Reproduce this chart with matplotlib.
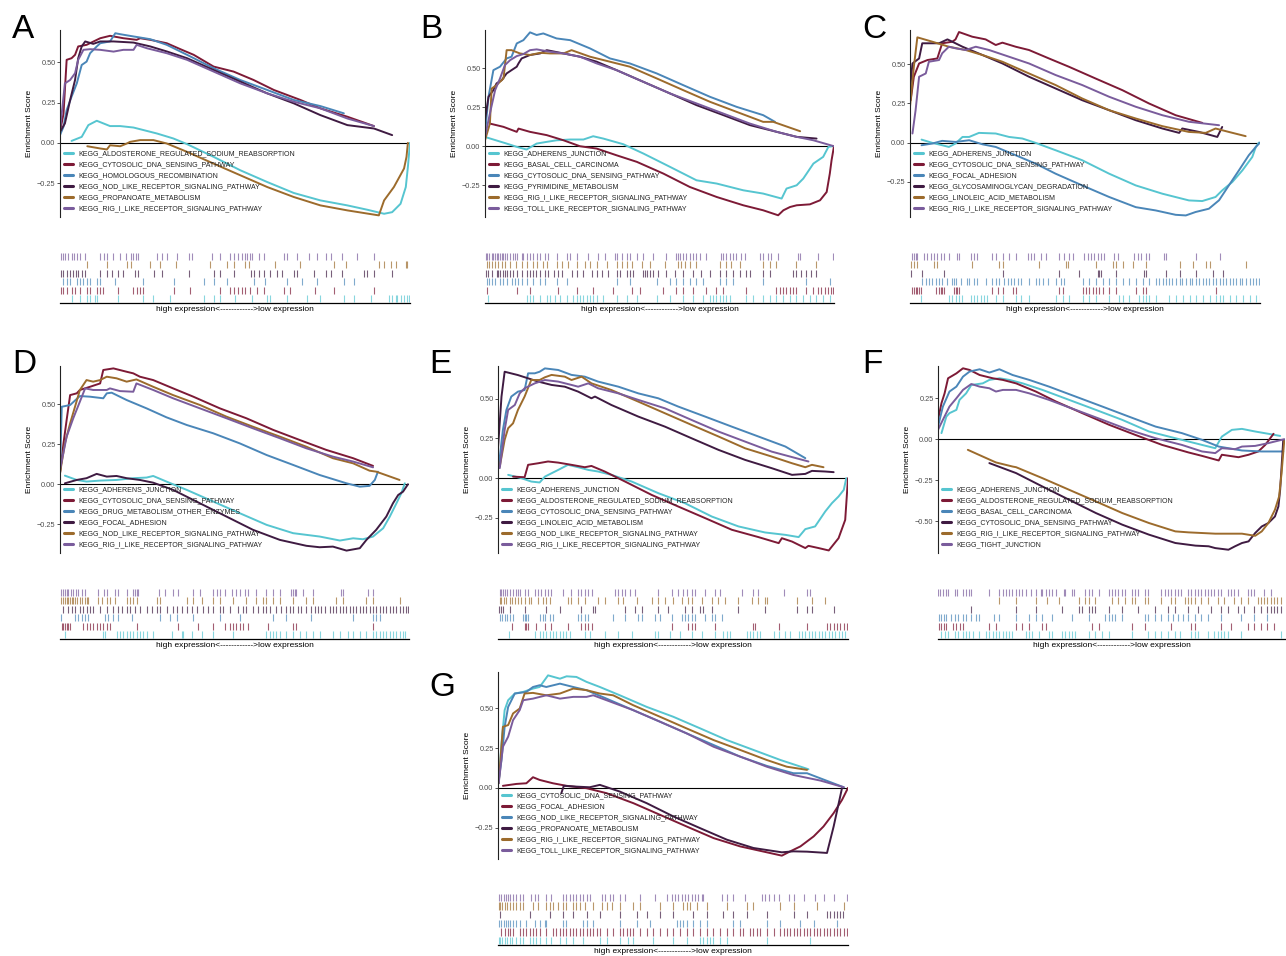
import matplotlib
matplotlib.use('Agg')
import matplotlib.pyplot as plt
from matplotlib.ticker import FuncFormatter

plt.rcParams['font.family'] = ['Liberation Sans', 'DejaVu Sans']

# colours of the six gene sets in every panel (legend order)
COLORS = ['#56C5D0', '#7D1A36', '#4A86B8', '#3F1B42', '#9C6B2C', '#7A5C9C']
N_RANK = 1048  # length of the ranked gene list (hit positions below are ranks)
XLABEL = 'high expression<------------>low expression'

# ---------------------------------------------------------------- panel A
A_names = ['KEGG_ALDOSTERONE_REGULATED_SODIUM_REABSORPTION', 'KEGG_CYTOSOLIC_DNA_SENSING_PATHWAY',
           'KEGG_HOMOLOGOUS_RECOMBINATION', 'KEGG_NOD_LIKE_RECEPTOR_SIGNALING_PATHWAY',
           'KEGG_PROPANOATE_METABOLISM', 'KEGG_RIG_I_LIKE_RECEPTOR_SIGNALING_PATHWAY']
A_x = [
    [0.033, 0.062, 0.081, 0.105, 0.143, 0.172, 0.210, 0.277, 0.324, 0.363, 0.439, 0.515, 0.592, 0.668, 0.744, 0.821, 0.878, 0.926, 0.949, 0.973, 0.988, 0.994, 1.0],
    [0, 0.01, 0.019, 0.033, 0.043, 0.052, 0.076, 0.115, 0.143, 0.181, 0.219, 0.229, 0.258, 0.305, 0.344, 0.382, 0.439, 0.496, 0.553, 0.611, 0.687, 0.744, 0.821, 0.897],
    [0, 0.01, 0.019, 0.033, 0.048, 0.062, 0.076, 0.086, 0.105, 0.115, 0.143, 0.158, 0.172, 0.21, 0.258, 0.305, 0.363, 0.439, 0.515, 0.592, 0.668, 0.744, 0.811],
    [0, 0.014, 0.029, 0.043, 0.052, 0.062, 0.072, 0.095, 0.115, 0.153, 0.21, 0.258, 0.305, 0.363, 0.439, 0.515, 0.592, 0.668, 0.744, 0.821, 0.897, 0.949],
    [0.078, 0.115, 0.134, 0.143, 0.172, 0.191, 0.2, 0.229, 0.267, 0.305, 0.363, 0.439, 0.515, 0.592, 0.668, 0.744, 0.821, 0.911, 0.926, 0.954, 0.983, 0.99, 0.994],
    [0, 0.014, 0.029, 0.043, 0.052, 0.067, 0.086, 0.115, 0.153, 0.181, 0.21, 0.219, 0.248, 0.305, 0.363, 0.439, 0.515, 0.592, 0.668, 0.744, 0.821, 0.897],
]
A_y = [
    [0.012, 0.037, 0.11, 0.137, 0.104, 0.104, 0.095, 0.058, 0.027, -0.008, -0.087, -0.17, -0.243, -0.311, -0.357, -0.388, -0.415, -0.44, -0.43, -0.378, -0.274, -0.149, 0],
    [0.068, 0.18, 0.515, 0.525, 0.546, 0.598, 0.608, 0.649, 0.664, 0.649, 0.639, 0.649, 0.639, 0.618, 0.581, 0.546, 0.473, 0.442, 0.39, 0.328, 0.266, 0.214, 0.162, 0.104],
    [0.048, 0.1, 0.203, 0.286, 0.369, 0.483, 0.504, 0.556, 0.598, 0.618, 0.629, 0.68, 0.674, 0.66, 0.643, 0.608, 0.546, 0.463, 0.39, 0.328, 0.266, 0.228, 0.183],
    [0.068, 0.12, 0.266, 0.39, 0.525, 0.598, 0.629, 0.614, 0.629, 0.629, 0.622, 0.598, 0.567, 0.525, 0.452, 0.38, 0.307, 0.245, 0.172, 0.11, 0.089, 0.048],
    [-0.021, -0.035, -0.041, -0.015, -0.021, -0.004, 0.006, 0.017, 0.017, -0.004, -0.056, -0.129, -0.201, -0.274, -0.336, -0.388, -0.419, -0.45, -0.357, -0.274, -0.159, -0.087, 0],
    [0.079, 0.369, 0.39, 0.432, 0.515, 0.577, 0.581, 0.577, 0.566, 0.577, 0.577, 0.608, 0.587, 0.556, 0.515, 0.442, 0.369, 0.307, 0.255, 0.214, 0.151, 0.104],
]
A_hits = [
    [35, 60, 82, 90, 105, 110, 175, 250, 278, 330, 430, 460, 480, 525, 575, 620, 630, 680, 740, 780, 850, 880, 930, 985, 995, 1005, 1010, 1020, 1030, 1040, 1045],
    [3, 10, 20, 35, 45, 60, 82, 90, 110, 120, 130, 175, 220, 230, 240, 248, 340, 390, 480, 510, 520, 532, 545, 555, 570, 590, 610, 670, 690, 765, 820, 940],
    [10, 20, 30, 50, 60, 70, 82, 90, 110, 120, 165, 250, 340, 430, 460, 500, 580, 615, 680, 725, 770, 850, 880],
    [3, 10, 20, 30, 40, 48, 55, 65, 75, 120, 140, 155, 175, 188, 225, 235, 280, 305, 385, 460, 480, 520, 572, 580, 595, 610, 630, 650, 665, 700, 710, 760, 795, 810, 845, 910, 920, 940, 995],
    [82, 142, 202, 212, 268, 298, 348, 448, 500, 520, 555, 565, 643, 720, 820, 855, 955, 970, 990, 1005, 1035, 1040],
    [3, 8, 15, 25, 35, 42, 50, 60, 75, 120, 132, 142, 160, 180, 198, 212, 220, 228, 235, 290, 305, 320, 350, 385, 395, 455, 480, 510, 520, 532, 545, 555, 560, 570, 575, 595, 610, 670, 680, 710, 745, 770, 795, 810, 845, 890, 940],
]

# ---------------------------------------------------------------- panel B
B_names = ['KEGG_ADHERENS_JUNCTION', 'KEGG_BASAL_CELL_CARCINOMA', 'KEGG_CYTOSOLIC_DNA_SENSING_PATHWAY',
           'KEGG_PYRIMIDINE_METABOLISM', 'KEGG_RIG_I_LIKE_RECEPTOR_SIGNALING_PATHWAY',
           'KEGG_TOLL_LIKE_RECEPTOR_SIGNALING_PATHWAY']
B_x = [
    [0.005, 0.062, 0.091, 0.119, 0.148, 0.177, 0.205, 0.244, 0.282, 0.31, 0.339, 0.396, 0.454, 0.53, 0.606, 0.664, 0.74, 0.797, 0.85, 0.864, 0.893, 0.912, 0.941, 0.969, 0.984, 0.993],
    [0.014, 0.053, 0.091, 0.096, 0.129, 0.177, 0.225, 0.272, 0.32, 0.377, 0.435, 0.511, 0.587, 0.664, 0.74, 0.797, 0.84, 0.855, 0.874, 0.893, 0.931, 0.96, 0.979, 0.988, 0.993, 1.0],
    [0, 0.01, 0.024, 0.043, 0.062, 0.076, 0.091, 0.11, 0.129, 0.148, 0.167, 0.205, 0.244, 0.301, 0.358, 0.415, 0.492, 0.568, 0.645, 0.721, 0.797, 0.831],
    [0, 0.01, 0.024, 0.033, 0.048, 0.062, 0.076, 0.091, 0.096, 0.105, 0.129, 0.158, 0.177, 0.225, 0.272, 0.32, 0.377, 0.454, 0.53, 0.606, 0.683, 0.759, 0.836, 0.893, 0.95],
    [0, 0.014, 0.019, 0.033, 0.053, 0.062, 0.076, 0.1, 0.129, 0.158, 0.186, 0.225, 0.248, 0.301, 0.358, 0.415, 0.492, 0.568, 0.645, 0.721, 0.797, 0.826, 0.903],
    [0, 0.014, 0.029, 0.043, 0.057, 0.072, 0.091, 0.11, 0.129, 0.148, 0.186, 0.225, 0.272, 0.32, 0.377, 0.454, 0.53, 0.606, 0.683, 0.759, 0.836, 0.893, 0.941, 1.0],
]
B_y = [
    [0.056, 0.017, -0.004, -0.021, 0.017, 0.028, 0.038, 0.043, 0.043, 0.064, 0.049, 0.013, -0.047, -0.132, -0.218, -0.239, -0.282, -0.303, -0.335, -0.271, -0.25, -0.207, -0.111, -0.068, -0.004, 0],
    [0.145, 0.124, 0.092, 0.113, 0.092, 0.071, 0.038, 0, -0.015, -0.058, -0.1, -0.175, -0.261, -0.325, -0.378, -0.41, -0.442, -0.41, -0.389, -0.378, -0.372, -0.346, -0.293, -0.175, -0.09, 0],
    [0.081, 0.316, 0.487, 0.509, 0.562, 0.573, 0.658, 0.679, 0.729, 0.712, 0.722, 0.69, 0.679, 0.626, 0.562, 0.53, 0.466, 0.391, 0.316, 0.252, 0.199, 0.156],
    [0.167, 0.316, 0.359, 0.402, 0.423, 0.466, 0.487, 0.509, 0.53, 0.562, 0.584, 0.594, 0.615, 0.594, 0.573, 0.541, 0.487, 0.412, 0.338, 0.263, 0.199, 0.135, 0.092, 0.06, 0.049],
    [0.038, 0.145, 0.369, 0.391, 0.434, 0.615, 0.615, 0.594, 0.584, 0.598, 0.594, 0.594, 0.615, 0.573, 0.541, 0.509, 0.434, 0.359, 0.284, 0.22, 0.156, 0.156, 0.096],
    [0.06, 0.209, 0.359, 0.434, 0.519, 0.551, 0.577, 0.59, 0.615, 0.62, 0.605, 0.594, 0.573, 0.53, 0.487, 0.412, 0.338, 0.274, 0.209, 0.145, 0.092, 0.06, 0.038, 0],
]
B_hits = [
    [10, 125, 135, 145, 165, 185, 195, 210, 225, 245, 265, 275, 285, 295, 305, 315, 325, 335, 355, 395, 425, 455, 515, 555, 595, 625, 655, 675, 685, 695, 705, 715, 725, 735, 785, 805, 835, 855, 875, 895, 915, 935, 955, 975, 995, 1015, 1035],
    [7, 97, 135, 220, 275, 325, 385, 440, 465, 535, 575, 595, 625, 665, 695, 715, 785, 875, 885, 895, 905, 915, 925, 935, 965, 985, 1000, 1010, 1020, 1030, 1040, 1045],
    [5, 13, 20, 30, 45, 55, 65, 80, 90, 100, 110, 125, 145, 165, 180, 215, 245, 395, 435, 515, 555, 575, 595, 615, 635, 655, 705, 725, 745, 835, 965, 1035],
    [3, 10, 20, 35, 40, 45, 53, 60, 67, 75, 83, 97, 110, 127, 135, 143, 153, 165, 180, 190, 207, 220, 230, 260, 275, 295, 320, 335, 350, 370, 395, 405, 425, 435, 445, 475, 480, 485, 495, 505, 520, 545, 570, 595, 625, 650, 675, 705, 725, 745, 765, 785, 795, 835, 855, 925, 935, 950, 965, 980, 995],
    [5, 13, 20, 30, 40, 50, 60, 75, 93, 110, 125, 145, 155, 175, 185, 215, 230, 250, 275, 300, 315, 335, 365, 395, 410, 425, 440, 470, 495, 540, 580, 590, 600, 615, 635, 705, 725, 740, 765, 835, 855, 875, 935, 995],
    [3, 7, 13, 20, 25, 30, 35, 40, 45, 50, 55, 60, 67, 75, 83, 90, 97, 110, 115, 125, 135, 145, 155, 165, 180, 190, 215, 245, 255, 275, 310, 340, 360, 390, 395, 410, 425, 435, 455, 475, 505, 545, 575, 580, 585, 595, 605, 615, 625, 635, 645, 665, 710, 715, 725, 735, 745, 755, 770, 780, 825, 835, 850, 860, 880, 940, 945, 1000, 1045],
]

# ---------------------------------------------------------------- panel C
C_names = ['KEGG_ADHERENS_JUNCTION', 'KEGG_CYTOSOLIC_DNA_SENSING_PATHWAY', 'KEGG_FOCAL_ADHESION',
           'KEGG_GLYCOSAMINOGLYCAN_DEGRADATION', 'KEGG_LINOLEIC_ACID_METABOLISM',
           'KEGG_RIG_I_LIKE_RECEPTOR_SIGNALING_PATHWAY']
C_x = [
    [0.033, 0.064, 0.092, 0.111, 0.13, 0.15, 0.169, 0.197, 0.245, 0.283, 0.321, 0.359, 0.416, 0.492, 0.569, 0.645, 0.721, 0.797, 0.835, 0.873, 0.892, 0.921, 0.95, 0.978, 0.988, 0.997],
    [0.002, 0.011, 0.026, 0.05, 0.078, 0.092, 0.121, 0.13, 0.14, 0.178, 0.216, 0.245, 0.264, 0.302, 0.34, 0.397, 0.454, 0.53, 0.607, 0.683, 0.759, 0.835],
    [0.033, 0.064, 0.092, 0.13, 0.169, 0.207, 0.245, 0.302, 0.359, 0.416, 0.492, 0.569, 0.645, 0.702, 0.759, 0.788, 0.816, 0.854, 0.883, 0.911, 0.94, 0.968, 0.988, 1.0],
    [0, 0.007, 0.026, 0.035, 0.083, 0.107, 0.121, 0.15, 0.207, 0.264, 0.34, 0.416, 0.492, 0.569, 0.645, 0.721, 0.769, 0.778, 0.826, 0.878, 0.892],
    [0, 0.011, 0.021, 0.064, 0.111, 0.159, 0.207, 0.264, 0.34, 0.416, 0.492, 0.569, 0.645, 0.721, 0.797, 0.845, 0.873, 0.911, 0.959],
    [0.007, 0.016, 0.026, 0.045, 0.054, 0.083, 0.092, 0.111, 0.13, 0.159, 0.188, 0.226, 0.283, 0.34, 0.416, 0.492, 0.569, 0.645, 0.721, 0.797, 0.883],
]
C_y = [
    [0.019, -0.002, -0.017, -0.028, -0.006, 0.036, 0.036, 0.062, 0.058, 0.036, 0.026, -0.002, -0.049, -0.113, -0.199, -0.274, -0.327, -0.37, -0.374, -0.348, -0.306, -0.252, -0.177, -0.092, -0.028, 0],
    [0.271, 0.421, 0.506, 0.528, 0.538, 0.635, 0.645, 0.66, 0.707, 0.677, 0.66, 0.624, 0.639, 0.613, 0.592, 0.538, 0.485, 0.41, 0.335, 0.25, 0.175, 0.126],
    [-0.017, -0.006, 0.011, 0.004, 0.015, -0.011, -0.028, -0.081, -0.135, -0.199, -0.274, -0.348, -0.413, -0.434, -0.462, -0.466, -0.444, -0.423, -0.369, -0.274, -0.177, -0.081, -0.028, 0],
    [0.335, 0.506, 0.538, 0.635, 0.635, 0.66, 0.645, 0.613, 0.56, 0.506, 0.421, 0.346, 0.271, 0.207, 0.143, 0.09, 0.062, 0.09, 0.068, 0.036, 0.1],
    [0.229, 0.485, 0.673, 0.645, 0.613, 0.592, 0.56, 0.517, 0.442, 0.368, 0.282, 0.207, 0.154, 0.105, 0.068, 0.062, 0.09, 0.068, 0.041],
    [0.058, 0.207, 0.421, 0.442, 0.517, 0.528, 0.571, 0.613, 0.603, 0.592, 0.613, 0.592, 0.549, 0.506, 0.432, 0.368, 0.293, 0.229, 0.175, 0.133, 0.111],
]
C_hits = [
    [32, 117, 127, 137, 147, 157, 182, 192, 202, 212, 222, 232, 257, 277, 317, 332, 357, 437, 457, 477, 517, 537, 557, 597, 627, 637, 657, 687, 697, 707, 717, 737, 777, 797, 817, 837, 857, 877, 897, 917, 927, 937, 957, 977, 997, 1017, 1037, 1047],
    [7, 12, 17, 22, 27, 32, 77, 87, 92, 97, 102, 132, 137, 142, 147, 247, 262, 277, 307, 317, 447, 457, 517, 527, 537, 547, 557, 567, 577, 597, 617, 677, 697, 707, 917],
    [37, 47, 57, 67, 77, 87, 97, 112, 127, 132, 137, 152, 172, 177, 192, 202, 227, 247, 257, 267, 282, 292, 302, 312, 322, 332, 357, 377, 387, 397, 412, 437, 452, 462, 517, 537, 557, 577, 597, 617, 637, 657, 677, 697, 717, 737, 745, 757, 767, 777, 785, 797, 807, 815, 827, 837, 845, 857, 865, 877, 887, 895, 907, 915, 927, 937, 945, 957, 967, 977, 987, 995, 1007, 1017, 1027, 1037, 1045],
    [2, 37, 102, 277, 447, 507, 562, 567, 572, 617, 702, 707, 767, 807, 857, 907, 937],
    [2, 12, 22, 72, 82, 187, 267, 277, 387, 467, 472, 557, 607, 617, 637, 667, 707, 807, 847, 887, 897, 1007],
    [7, 12, 17, 22, 42, 52, 62, 72, 82, 92, 102, 117, 142, 147, 182, 192, 202, 247, 257, 277, 297, 317, 352, 362, 372, 392, 407, 447, 462, 477, 487, 522, 532, 542, 552, 562, 572, 582, 612, 622, 672, 682, 692, 707, 717, 762, 767, 857, 927],
]

# ---------------------------------------------------------------- panel D
D_names = ['KEGG_ADHERENS_JUNCTION', 'KEGG_CYTOSOLIC_DNA_SENSING_PATHWAY', 'KEGG_DRUG_METABOLISM_OTHER_ENZYMES',
           'KEGG_FOCAL_ADHESION', 'KEGG_NOD_LIKE_RECEPTOR_SIGNALING_PATHWAY',
           'KEGG_RIG_I_LIKE_RECEPTOR_SIGNALING_PATHWAY']
D_x = [
    [0.014, 0.048, 0.076, 0.115, 0.162, 0.21, 0.248, 0.267, 0.305, 0.363, 0.439, 0.515, 0.592, 0.668, 0.744, 0.802, 0.84, 0.868, 0.897, 0.926, 0.945, 0.964, 0.978, 0.988],
    [0, 0.01, 0.019, 0.029, 0.048, 0.057, 0.086, 0.115, 0.124, 0.153, 0.191, 0.21, 0.229, 0.267, 0.324, 0.382, 0.458, 0.534, 0.611, 0.687, 0.763, 0.84, 0.897],
    [0, 0.005, 0.029, 0.057, 0.086, 0.124, 0.134, 0.148, 0.191, 0.248, 0.305, 0.363, 0.439, 0.515, 0.592, 0.668, 0.744, 0.821, 0.859, 0.887, 0.902, 0.911],
    [0.014, 0.048, 0.076, 0.105, 0.134, 0.162, 0.191, 0.229, 0.267, 0.324, 0.401, 0.477, 0.553, 0.63, 0.706, 0.744, 0.782, 0.821, 0.859, 0.878, 0.906, 0.935, 0.954, 0.969, 0.983, 0.997],
    [0, 0.014, 0.029, 0.043, 0.057, 0.076, 0.095, 0.115, 0.134, 0.162, 0.191, 0.219, 0.267, 0.324, 0.401, 0.477, 0.553, 0.63, 0.706, 0.782, 0.84, 0.887, 0.906, 0.973],
    [0, 0.019, 0.038, 0.057, 0.072, 0.095, 0.134, 0.143, 0.172, 0.21, 0.219, 0.267, 0.324, 0.401, 0.477, 0.553, 0.63, 0.706, 0.782, 0.84, 0.897],
]
D_y = [
    [0.054, 0.027, 0.017, 0.023, 0.027, 0.038, 0.042, 0.052, 0.017, -0.035, -0.108, -0.181, -0.254, -0.306, -0.327, -0.352, -0.338, -0.344, -0.327, -0.275, -0.202, -0.119, -0.056, 0.006],
    [0.069, 0.256, 0.402, 0.558, 0.569, 0.59, 0.61, 0.631, 0.715, 0.725, 0.704, 0.694, 0.673, 0.652, 0.6, 0.548, 0.475, 0.413, 0.34, 0.277, 0.215, 0.163, 0.115],
    [0.069, 0.485, 0.496, 0.552, 0.548, 0.538, 0.569, 0.573, 0.527, 0.475, 0.419, 0.371, 0.319, 0.256, 0.183, 0.121, 0.058, 0.006, -0.015, -0.01, 0.027, 0.079],
    [0.006, 0.027, 0.038, 0.065, 0.048, 0.052, 0.038, 0.027, 0.01, -0.035, -0.119, -0.202, -0.285, -0.348, -0.385, -0.394, -0.39, -0.415, -0.4, -0.348, -0.285, -0.202, -0.119, -0.067, -0.046, 0],
    [0.069, 0.256, 0.381, 0.485, 0.59, 0.652, 0.642, 0.652, 0.673, 0.663, 0.642, 0.656, 0.61, 0.558, 0.496, 0.423, 0.36, 0.298, 0.235, 0.163, 0.131, 0.085, 0.079, 0.027],
    [0.09, 0.298, 0.413, 0.517, 0.6, 0.59, 0.59, 0.6, 0.583, 0.579, 0.631, 0.59, 0.538, 0.475, 0.413, 0.35, 0.288, 0.225, 0.173, 0.142, 0.106],
]
D_hits = [
    [15, 130, 135, 170, 180, 190, 200, 210, 220, 230, 240, 250, 260, 280, 335, 365, 370, 395, 425, 460, 520, 620, 630, 640, 650, 660, 680, 700, 720, 740, 760, 780, 820, 840, 865, 880, 900, 920, 940, 950, 960, 970, 980, 990, 1000, 1010, 1020, 1030, 1035],
    [5, 10, 15, 20, 25, 30, 70, 80, 90, 100, 110, 120, 130, 140, 150, 230, 355, 415, 460, 495, 510, 520, 530, 540, 550, 565, 625, 700, 710, 940],
    [3, 45, 55, 65, 75, 85, 135, 145, 160, 175, 215, 300, 330, 350, 400, 480, 540, 640, 680, 755, 880, 940, 950, 960],
    [10, 25, 35, 45, 60, 70, 80, 90, 100, 120, 140, 160, 175, 185, 200, 210, 225, 240, 260, 275, 290, 300, 320, 340, 350, 365, 380, 395, 410, 430, 445, 460, 480, 490, 510, 535, 550, 560, 580, 595, 610, 620, 630, 650, 665, 680, 690, 700, 715, 725, 740, 755, 765, 775, 785, 795, 810, 820, 830, 840, 850, 860, 870, 880, 890, 900, 910, 920, 930, 940, 950, 960, 970, 980, 990, 1000, 1010, 1020, 1030, 1040, 1045],
    [3, 10, 15, 20, 25, 30, 35, 40, 45, 50, 60, 65, 75, 80, 85, 115, 125, 140, 150, 165, 200, 210, 220, 230, 290, 300, 380, 400, 425, 460, 480, 520, 560, 590, 610, 620, 640, 660, 700, 740, 760, 830, 850, 920, 940, 1020],
    [3, 8, 15, 20, 25, 32, 40, 48, 55, 65, 75, 115, 132, 140, 165, 175, 200, 220, 225, 230, 235, 298, 315, 340, 355, 400, 420, 460, 470, 480, 495, 515, 530, 540, 555, 565, 590, 620, 640, 660, 695, 700, 705, 710, 730, 760, 845, 850, 925, 940],
]

# ---------------------------------------------------------------- panel E
E_names = ['KEGG_ADHERENS_JUNCTION', 'KEGG_ALDOSTERONE_REGULATED_SODIUM_REABSORPTION',
           'KEGG_CYTOSOLIC_DNA_SENSING_PATHWAY', 'KEGG_LINOLEIC_ACID_METABOLISM',
           'KEGG_NOD_LIKE_RECEPTOR_SIGNALING_PATHWAY', 'KEGG_RIG_I_LIKE_RECEPTOR_SIGNALING_PATHWAY']
E_x = [
    [0.029, 0.067, 0.095, 0.119, 0.134, 0.153, 0.172, 0.2, 0.229, 0.258, 0.286, 0.324, 0.382, 0.458, 0.534, 0.611, 0.687, 0.763, 0.821, 0.859, 0.878, 0.906, 0.935, 0.954, 0.973, 0.988, 0.995],
    [0.043, 0.076, 0.086, 0.115, 0.143, 0.172, 0.21, 0.248, 0.267, 0.305, 0.363, 0.439, 0.515, 0.592, 0.668, 0.744, 0.802, 0.811, 0.84, 0.878, 0.887, 0.916, 0.945, 0.973, 0.992, 1.0],
    [0.002, 0.014, 0.024, 0.038, 0.057, 0.076, 0.086, 0.105, 0.119, 0.134, 0.172, 0.21, 0.248, 0.286, 0.344, 0.401, 0.458, 0.515, 0.592, 0.668, 0.744, 0.821, 0.878],
    [0, 0.01, 0.019, 0.057, 0.115, 0.153, 0.191, 0.229, 0.267, 0.277, 0.324, 0.401, 0.477, 0.553, 0.63, 0.706, 0.782, 0.84, 0.878, 0.897, 0.935, 0.959],
    [0.005, 0.019, 0.029, 0.043, 0.057, 0.076, 0.095, 0.119, 0.134, 0.153, 0.191, 0.21, 0.239, 0.267, 0.324, 0.401, 0.477, 0.553, 0.63, 0.706, 0.782, 0.84, 0.878, 0.897, 0.93],
    [0.005, 0.019, 0.029, 0.048, 0.062, 0.076, 0.105, 0.134, 0.172, 0.21, 0.229, 0.258, 0.286, 0.344, 0.401, 0.477, 0.553, 0.63, 0.706, 0.782, 0.887],
]
E_y = [
    [0.021, 0, -0.021, -0.027, 0.01, 0.031, 0.052, 0.084, 0.069, 0.052, 0.042, 0.021, -0.021, -0.094, -0.157, -0.241, -0.303, -0.341, -0.356, -0.37, -0.32, -0.303, -0.209, -0.157, -0.115, -0.073, 0],
    [0.01, 0.006, 0.084, 0.094, 0.105, 0.098, 0.084, 0.069, 0.077, 0.042, -0.021, -0.105, -0.178, -0.251, -0.324, -0.37, -0.408, -0.377, -0.398, -0.439, -0.425, -0.439, -0.454, -0.377, -0.262, 0],
    [0.073, 0.303, 0.429, 0.513, 0.544, 0.554, 0.659, 0.659, 0.669, 0.69, 0.68, 0.649, 0.638, 0.607, 0.575, 0.533, 0.502, 0.45, 0.387, 0.324, 0.262, 0.199, 0.126],
    [0.188, 0.513, 0.669, 0.648, 0.607, 0.586, 0.575, 0.544, 0.502, 0.513, 0.46, 0.387, 0.324, 0.251, 0.178, 0.115, 0.063, 0.021, 0.027, 0.046, 0.042, 0.038],
    [0.073, 0.241, 0.314, 0.345, 0.429, 0.513, 0.617, 0.617, 0.634, 0.649, 0.638, 0.617, 0.638, 0.596, 0.554, 0.481, 0.408, 0.335, 0.262, 0.188, 0.136, 0.094, 0.069, 0.084, 0.069],
    [0.063, 0.303, 0.429, 0.46, 0.533, 0.565, 0.596, 0.617, 0.607, 0.586, 0.575, 0.596, 0.565, 0.533, 0.492, 0.439, 0.366, 0.293, 0.23, 0.167, 0.105],
]
E_hits = [
    [32, 110, 125, 135, 145, 155, 165, 175, 185, 195, 205, 215, 260, 275, 320, 360, 400, 470, 480, 515, 545, 580, 610, 650, 675, 685, 695, 745, 755, 765, 775, 785, 825, 840, 860, 875, 900, 910, 920, 930, 940, 950, 960, 970, 980, 990, 1000, 1010, 1020, 1030, 1040],
    [42, 80, 85, 90, 115, 140, 160, 210, 250, 260, 270, 280, 520, 570, 580, 590, 650, 765, 770, 840, 925, 985, 995, 1005, 1015, 1025, 1035, 1045],
    [5, 12, 20, 28, 35, 45, 75, 80, 85, 90, 125, 135, 140, 155, 165, 240, 250, 260, 270, 345, 380, 420, 430, 470, 485, 520, 550, 560, 570, 580, 590, 620, 640, 650, 670],
    [2, 8, 15, 35, 80, 145, 185, 250, 285, 290, 380, 410, 430, 480, 510, 560, 580, 605, 615, 640, 720, 800, 895, 925, 940, 1005],
    [5, 10, 18, 25, 35, 42, 50, 60, 70, 80, 92, 100, 120, 135, 145, 155, 210, 220, 240, 260, 300, 320, 360, 375, 415, 460, 480, 500, 525, 550, 570, 580, 610, 640, 660, 680, 720, 760, 780, 800, 805, 895, 940, 980],
    [5, 10, 15, 20, 28, 35, 45, 55, 60, 65, 80, 90, 110, 120, 130, 140, 150, 160, 195, 220, 240, 250, 260, 270, 280, 350, 360, 370, 380, 395, 410, 480, 520, 540, 555, 565, 580, 590, 620, 650, 665, 730, 765, 780, 855, 925, 935],
]

# ---------------------------------------------------------------- panel F
F_names = ['KEGG_ADHERENS_JUNCTION', 'KEGG_ALDOSTERONE_REGULATED_SODIUM_REABSORPTION',
           'KEGG_BASAL_CELL_CARCINOMA', 'KEGG_CYTOSOLIC_DNA_SENSING_PATHWAY',
           'KEGG_RIG_I_LIKE_RECEPTOR_SIGNALING_PATHWAY', 'KEGG_TIGHT_JUNCTION']
F_x = [
    [0.01, 0.024, 0.033, 0.053, 0.062, 0.081, 0.096, 0.129, 0.148, 0.177, 0.206, 0.244, 0.301, 0.378, 0.455, 0.531, 0.608, 0.684, 0.761, 0.799, 0.818, 0.847, 0.876, 0.914, 0.952, 0.986],
    [0, 0.01, 0.019, 0.029, 0.053, 0.072, 0.091, 0.12, 0.158, 0.187, 0.225, 0.282, 0.34, 0.416, 0.493, 0.569, 0.646, 0.722, 0.761, 0.809, 0.818, 0.866, 0.895, 0.923, 0.943, 0.967],
    [0, 0.014, 0.033, 0.053, 0.072, 0.091, 0.12, 0.148, 0.177, 0.215, 0.263, 0.32, 0.397, 0.474, 0.55, 0.627, 0.703, 0.761, 0.809, 0.876, 0.933, 0.995],
    [0.148, 0.225, 0.301, 0.378, 0.455, 0.531, 0.608, 0.684, 0.742, 0.78, 0.799, 0.837, 0.856, 0.876, 0.895, 0.914, 0.933, 0.952, 0.971, 0.981, 0.986, 0.995],
    [0.086, 0.129, 0.167, 0.215, 0.225, 0.301, 0.378, 0.455, 0.531, 0.608, 0.684, 0.722, 0.761, 0.799, 0.837, 0.876, 0.914, 0.933, 0.952, 0.971, 0.983, 0.99, 0.998],
    [0, 0.014, 0.033, 0.053, 0.072, 0.096, 0.12, 0.148, 0.167, 0.187, 0.225, 0.263, 0.32, 0.397, 0.474, 0.55, 0.627, 0.703, 0.761, 0.799, 0.818, 0.856, 0.876, 0.914, 0.952, 0.971, 0.998],
]
F_y = [
    [0.037, 0.138, 0.159, 0.179, 0.24, 0.28, 0.331, 0.341, 0.362, 0.372, 0.362, 0.341, 0.301, 0.24, 0.179, 0.118, 0.047, 0.006, -0.035, -0.055, 0.016, 0.057, 0.063, 0.047, 0.033, 0.02],
    [0.118, 0.22, 0.28, 0.372, 0.402, 0.433, 0.423, 0.392, 0.372, 0.362, 0.341, 0.291, 0.23, 0.159, 0.088, 0.026, -0.035, -0.081, -0.102, -0.13, -0.095, -0.11, -0.095, -0.075, -0.035, 0.033],
    [0.077, 0.199, 0.291, 0.321, 0.382, 0.413, 0.427, 0.407, 0.427, 0.392, 0.362, 0.321, 0.26, 0.199, 0.138, 0.077, 0.037, -0.004, -0.045, -0.069, -0.075, -0.075],
    [-0.146, -0.207, -0.289, -0.37, -0.451, -0.522, -0.583, -0.634, -0.65, -0.654, -0.665, -0.675, -0.654, -0.634, -0.624, -0.573, -0.533, -0.512, -0.472, -0.411, -0.309, -0.004],
    [-0.065, -0.106, -0.142, -0.167, -0.171, -0.238, -0.309, -0.38, -0.451, -0.512, -0.563, -0.569, -0.573, -0.577, -0.577, -0.577, -0.59, -0.563, -0.512, -0.431, -0.35, -0.209, -0.004],
    [0.057, 0.118, 0.199, 0.25, 0.301, 0.337, 0.321, 0.311, 0.291, 0.301, 0.301, 0.28, 0.24, 0.179, 0.118, 0.057, 0.006, -0.035, -0.075, -0.085, -0.055, -0.061, -0.045, -0.041, -0.024, -0.014, 0],
]
F_hits = [
    [10, 20, 30, 50, 60, 75, 85, 95, 105, 125, 145, 155, 165, 175, 185, 195, 205, 215, 225, 265, 275, 285, 305, 335, 345, 375, 385, 395, 405, 415, 455, 475, 495, 515, 585, 635, 655, 675, 695, 715, 730, 765, 775, 785, 815, 835, 845, 855, 865, 875, 915, 1035],
    [3, 10, 17, 25, 45, 55, 65, 75, 155, 175, 235, 255, 275, 315, 325, 465, 485, 585, 625, 705, 765, 775, 855, 885, 935, 955, 975, 995, 1015],
    [3, 10, 17, 25, 40, 50, 60, 75, 85, 100, 115, 125, 170, 185, 235, 275, 295, 315, 345, 405, 455, 505, 515, 525, 535, 555, 625, 635, 655, 675, 695, 710, 725, 740, 755, 775, 795, 815, 855, 915, 955, 995],
    [100, 235, 295, 375, 425, 435, 455, 465, 475, 515, 555, 605, 655, 695, 715, 755, 785, 825, 855, 875, 905, 925, 955, 975, 995, 1005, 1015, 1025, 1035],
    [185, 235, 295, 330, 365, 425, 445, 455, 475, 525, 545, 565, 585, 595, 625, 635, 675, 705, 715, 745, 755, 765, 775, 795, 815, 845, 865, 895, 915, 935, 965, 975, 985, 995, 1005, 1015, 1025, 1035],
    [0, 7, 15, 23, 30, 50, 57, 75, 85, 93, 100, 155, 185, 195, 205, 215, 225, 235, 245, 255, 265, 280, 295, 310, 315, 325, 335, 345, 355, 380, 385, 405, 410, 445, 455, 465, 485, 515, 525, 535, 545, 555, 565, 585, 595, 605, 625, 635, 675, 685, 695, 705, 715, 725, 735, 755, 765, 775, 785, 795, 805, 815, 825, 835, 845, 855, 875, 885, 895, 905, 935, 945, 955, 985, 1005],
]

# ---------------------------------------------------------------- panel G
G_names = ['KEGG_CYTOSOLIC_DNA_SENSING_PATHWAY', 'KEGG_FOCAL_ADHESION',
           'KEGG_NOD_LIKE_RECEPTOR_SIGNALING_PATHWAY', 'KEGG_PROPANOATE_METABOLISM',
           'KEGG_RIG_I_LIKE_RECEPTOR_SIGNALING_PATHWAY', 'KEGG_TOLL_LIKE_RECEPTOR_SIGNALING_PATHWAY']
G_x = [
    [0.002, 0.01, 0.019, 0.029, 0.048, 0.072, 0.1, 0.119, 0.143, 0.177, 0.196, 0.224, 0.253, 0.291, 0.348, 0.425, 0.501, 0.578, 0.654, 0.73, 0.807, 0.887],
    [0.014, 0.053, 0.081, 0.1, 0.119, 0.157, 0.196, 0.253, 0.31, 0.387, 0.463, 0.539, 0.616, 0.692, 0.768, 0.811, 0.835, 0.864, 0.902, 0.93, 0.959, 0.983, 1.0],
    [0.002, 0.01, 0.019, 0.029, 0.048, 0.081, 0.1, 0.119, 0.138, 0.177, 0.215, 0.253, 0.31, 0.386, 0.463, 0.539, 0.616, 0.692, 0.768, 0.844, 0.883, 0.921, 0.988],
    [0.181, 0.188, 0.224, 0.262, 0.291, 0.348, 0.425, 0.501, 0.577, 0.654, 0.73, 0.811, 0.844, 0.883, 0.94, 0.959, 0.983],
    [0.002, 0.014, 0.029, 0.043, 0.062, 0.076, 0.1, 0.138, 0.177, 0.215, 0.253, 0.291, 0.329, 0.386, 0.463, 0.539, 0.616, 0.692, 0.768, 0.825, 0.883],
    [0.002, 0.014, 0.029, 0.043, 0.062, 0.072, 0.1, 0.138, 0.177, 0.215, 0.253, 0.272, 0.31, 0.386, 0.463, 0.539, 0.616, 0.692, 0.768, 0.844, 0.921, 0.988],
]
G_y = [
    [0.029, 0.279, 0.488, 0.55, 0.592, 0.602, 0.623, 0.633, 0.706, 0.685, 0.7, 0.696, 0.665, 0.633, 0.581, 0.508, 0.446, 0.373, 0.3, 0.238, 0.175, 0.117],
    [0.013, 0.025, 0.029, 0.067, 0.05, 0.029, 0.013, -0.002, -0.033, -0.096, -0.169, -0.242, -0.315, -0.367, -0.404, -0.425, -0.398, -0.367, -0.304, -0.242, -0.158, -0.075, 0],
    [0.05, 0.175, 0.383, 0.508, 0.592, 0.602, 0.633, 0.644, 0.633, 0.654, 0.633, 0.613, 0.56, 0.488, 0.415, 0.342, 0.269, 0.196, 0.138, 0.092, 0.092, 0.06, 0.004],
    [-0.033, 0.013, 0.008, 0.004, 0.019, -0.023, -0.096, -0.179, -0.252, -0.325, -0.377, -0.404, -0.398, -0.4, -0.408, -0.242, 0],
    [0.029, 0.383, 0.394, 0.467, 0.498, 0.592, 0.596, 0.581, 0.592, 0.623, 0.613, 0.592, 0.581, 0.519, 0.446, 0.373, 0.3, 0.238, 0.175, 0.133, 0.113],
    [0.029, 0.258, 0.321, 0.425, 0.488, 0.55, 0.56, 0.581, 0.56, 0.571, 0.571, 0.581, 0.55, 0.488, 0.415, 0.342, 0.258, 0.196, 0.133, 0.081, 0.046, 0.004],
]
G_hits = [
    [3, 7, 13, 20, 27, 35, 43, 55, 65, 75, 95, 105, 115, 125, 145, 160, 185, 205, 225, 255, 305, 325, 365, 390, 405, 465, 525, 565, 605, 615, 625, 635, 645, 665, 685, 805, 935],
    [10, 20, 30, 35, 45, 65, 75, 85, 95, 105, 115, 125, 145, 165, 175, 185, 195, 205, 215, 225, 235, 245, 255, 265, 275, 285, 295, 305, 325, 345, 365, 375, 385, 395, 405, 425, 445, 465, 485, 505, 525, 545, 565, 585, 605, 625, 645, 665, 685, 705, 725, 735, 755, 765, 775, 785, 805, 825, 845, 855, 865, 875, 885, 895, 905, 915, 925, 935, 945, 955, 965, 975, 985, 995, 1005, 1015, 1025, 1035, 1045],
    [3, 10, 17, 23, 30, 37, 45, 55, 65, 85, 110, 125, 140, 145, 195, 205, 255, 265, 285, 365, 415, 455, 535, 545, 555, 565, 585, 605, 625, 705, 725, 805, 845, 905, 945, 1015],
    [5, 95, 155, 195, 225, 265, 305, 365, 415, 445, 485, 525, 585, 625, 675, 705, 745, 805, 885, 925, 985, 995, 1005, 1015, 1025, 1033],
    [3, 7, 13, 20, 27, 35, 45, 55, 65, 75, 105, 120, 145, 155, 165, 180, 195, 205, 225, 235, 245, 260, 285, 310, 325, 340, 365, 405, 425, 485, 525, 555, 565, 575, 595, 625, 685, 745, 765, 845, 885, 955, 1035],
    [3, 10, 17, 23, 30, 37, 45, 55, 65, 75, 100, 110, 120, 145, 160, 195, 205, 215, 225, 235, 245, 255, 265, 275, 310, 320, 335, 345, 365, 380, 425, 470, 505, 520, 530, 540, 550, 560, 570, 580, 590, 600, 610, 615, 670, 685, 705, 740, 790, 800, 810, 825, 840, 870, 885, 915, 950, 975, 1005, 1045],
]

A_ylim, A_ticks = (-0.46, 0.70), [-0.25, 0.0, 0.25, 0.50]
B_ylim, B_ticks = (-0.453, 0.744), [-0.25, 0.0, 0.25, 0.50]
C_ylim, C_ticks = (-0.476, 0.72), [-0.25, 0.0, 0.25, 0.50]
D_ylim, D_ticks = (-0.43, 0.74), [-0.25, 0.0, 0.25, 0.50]
E_ylim, E_ticks = (-0.47, 0.705), [-0.25, 0.0, 0.25, 0.50]
F_ylim, F_ticks = (-0.695, 0.447), [-0.50, -0.25, 0.0, 0.25]
G_ylim, G_ticks = (-0.446, 0.727), [-0.25, 0.0, 0.25, 0.50]

# ---------------------------------------------------------------- drawing
W, H = 1286, 956
fig = plt.figure(figsize=(W / 100, H / 100), dpi=100)
fmt = FuncFormatter(lambda v, p: ('%.2f' % v).replace('-', '\u2212'))


def box(l, r, t, b):
    return [l / W, 1 - b / H, (r - l) / W, (b - t) / H]


def panel(letter, names, xs, ys, hits, ylim, ticks, main_px, rug_px, letter_px):
    ax = fig.add_axes(box(*main_px))
    for i in range(6):
        ax.plot(xs[i], ys[i], color=COLORS[i], lw=1.4, label=names[i],
                solid_joinstyle='round', solid_capstyle='round')
    ax.axhline(0, color='black', lw=0.8, zorder=0)
    ax.set_xlim(0, 1)
    ax.set_ylim(*ylim)
    ax.set_yticks(ticks)
    ax.yaxis.set_major_formatter(fmt)
    for s in ('top', 'right', 'bottom'):
        ax.spines[s].set_visible(False)
    ax.spines['left'].set_linewidth(0.8)
    ax.spines['left'].set_color('#222222')
    ax.tick_params(axis='x', bottom=False, labelbottom=False)
    ax.tick_params(axis='y', length=2, width=0.6, pad=1.2, labelsize=5.3,
                   labelcolor='#4D4D4D', color='#333333')
    ax.set_ylabel('Enrichment Score', fontsize=6, labelpad=3)
    leg = ax.legend(loc='upper left', bbox_to_anchor=(0.011, 0.355), frameon=False,
                    fontsize=5, handlelength=1.3, handletextpad=0.75, labelspacing=0.58,
                    borderpad=0, borderaxespad=0)
    for ln in leg.get_lines():
        ln.set_linewidth(2.2)
    for t in leg.get_texts():
        t.set_color('#222222')

    rax = fig.add_axes(box(*rug_px))
    for i in range(6):
        rax.vlines([h / N_RANK for h in hits[i]], i + 0.08, i + 0.92,
                   colors=COLORS[i], lw=0.8, alpha=0.7)
    rax.set_xlim(0, 1)
    rax.set_ylim(0, 6)
    for s in ('top', 'right', 'left'):
        rax.spines[s].set_visible(False)
    rax.spines['bottom'].set_linewidth(0.9)
    rax.set_xticks([])
    rax.set_yticks([])
    rax.set_xlabel(XLABEL, fontsize=6, labelpad=2.5)

    fig.text(letter_px[0] / W, 1 - letter_px[1] / H, letter, fontsize=24,
             ha='left', va='baseline')


panel('A', A_names, A_x, A_y, A_hits, A_ylim, A_ticks, (60, 410, 30, 217), (60, 410, 252, 303), (12, 38))
panel('B', B_names, B_x, B_y, B_hits, B_ylim, B_ticks, (485, 834, 30, 217), (485, 834, 252, 303), (420, 38))
panel('C', C_names, C_x, C_y, C_hits, C_ylim, C_ticks, (910, 1260, 30, 217), (910, 1260, 252, 303), (862, 38))
panel('D', D_names, D_x, D_y, D_hits, D_ylim, D_ticks, (60, 409, 366, 553), (60, 409, 588, 639), (12, 373))
panel('E', E_names, E_x, E_y, E_hits, E_ylim, E_ticks, (498, 848, 366, 553), (498, 848, 588, 639), (429, 373))
panel('F', F_names, F_x, F_y, F_hits, F_ylim, F_ticks, (938, 1285, 366, 553), (938, 1285, 588, 639), (862, 373))
panel('G', G_names, G_x, G_y, G_hits, G_ylim, G_ticks, (498, 848, 672, 859), (498, 848, 893, 945), (429, 696))

fig.savefig('out.png', dpi=100, facecolor='white')
